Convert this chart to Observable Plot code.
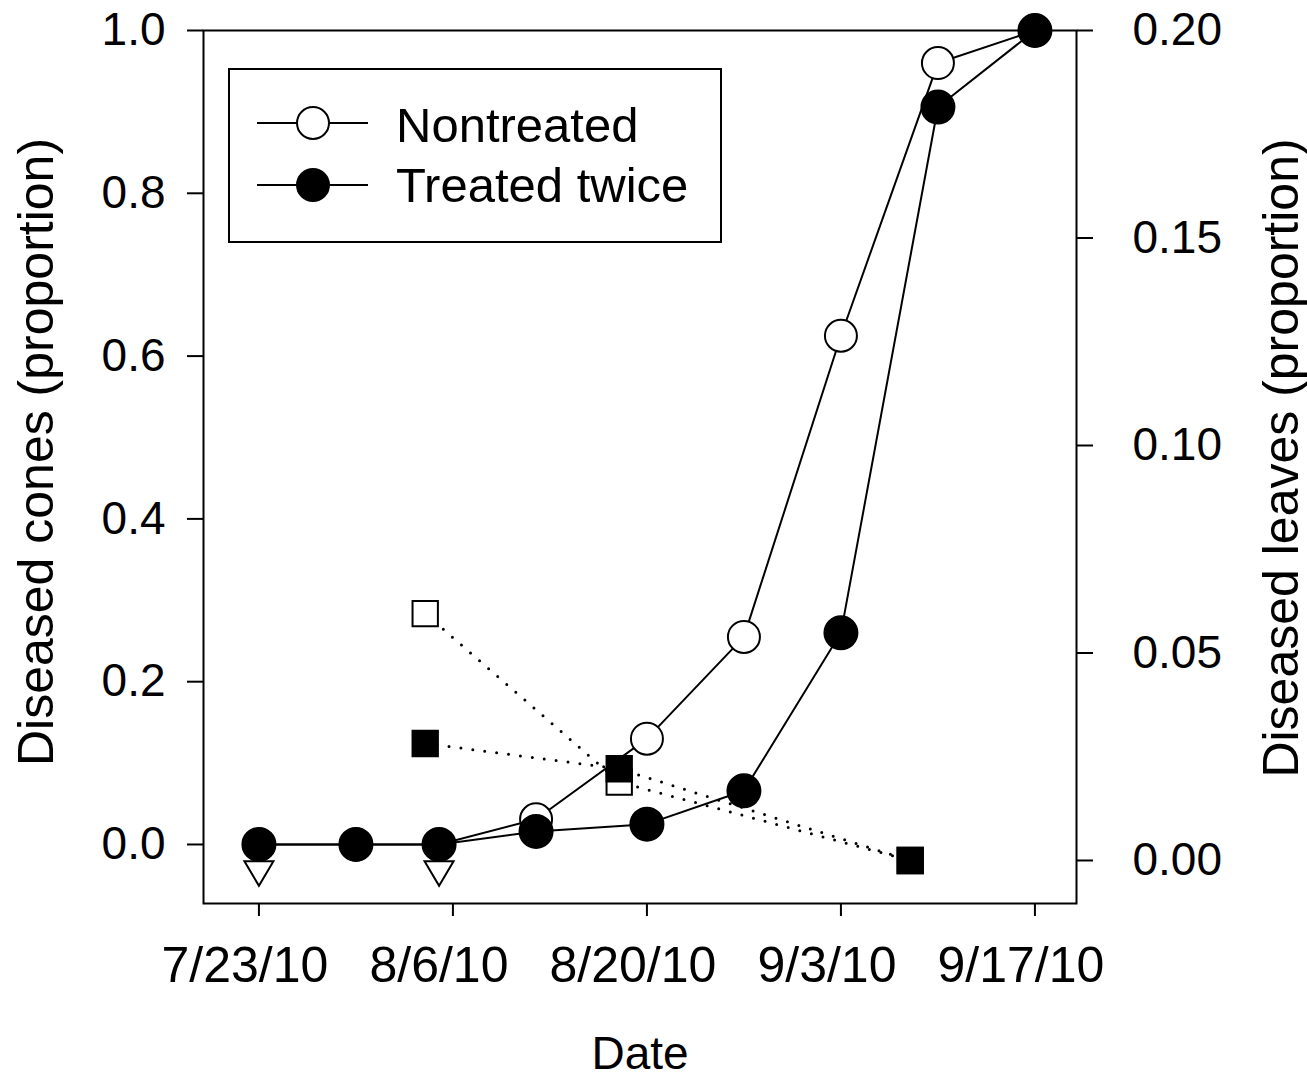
<!DOCTYPE html>
<html>
<head>
<meta charset="utf-8">
<script src="https://cdn.jsdelivr.net/npm/d3@7"></script>
<script src="https://cdn.jsdelivr.net/npm/@observablehq/plot@0.6"></script>
<style>
html, body { margin: 0; padding: 0; background: #fff; }
#wrap { position: relative; width: 1307px; height: 1078px; font-family: "Liberation Sans", Arial, sans-serif; }
#legend { position: absolute; left: 228px; top: 68px; width: 494px; height: 175px; box-sizing: border-box; border: 2px solid #000; background: #fff; }
</style>
</head>
<body>
<div id="wrap"></div>
<script>
// ---- data ----
const sampleDates = ["2010-07-23", "2010-07-30", "2010-08-05", "2010-08-12", "2010-08-20", "2010-08-27", "2010-09-03", "2010-09-10", "2010-09-17"];
const nontreatedCones = [0.0, 0.0, 0.0, 0.031, 0.130, 0.255, 0.625, 0.960, 1.0];
const treatedCones    = [0.0, 0.0, 0.0, 0.016, 0.025, 0.066, 0.260, 0.906, 1.0];

const leafDates = ["2010-08-04", "2010-08-18", "2010-09-08"];
const nontreatedLeaves = [0.0595, 0.0189, 0.0];
const treatedLeaves    = [0.0282, 0.0221, 0.0];

const treatmentDates = ["2010-07-23", "2010-08-05"];
const treatmentMarkerLevel = -0.0356;

const seriesNames = ["Nontreated", "Treated twice"];
const coneTicks = [0, 0.2, 0.4, 0.6, 0.8, 1.0];
const leafTicks = [0, 0.05, 0.10, 0.15, 0.20];
const dateTicks = ["2010-07-23", "2010-08-06", "2010-08-20", "2010-09-03", "2010-09-17"];
const xDomain = ["2010-07-19", "2010-09-20"];
const coneDomain = [-0.0725, 1.0];
const xTitle = "Date";
const yLeftTitle = "Diseased cones (proportion)";
const yRightTitle = "Diseased leaves (proportion)";

// right (leaf) axis expressed in the left (cone) scale
const LEAF_ZERO = -0.019656;
const LEAF_SCALE = 5.0983;
const leafToCone = v => LEAF_ZERO + v * LEAF_SCALE;
const coneToLeaf = c => (c - LEAF_ZERO) / LEAF_SCALE;

const parse = s => new Date(s + "T00:00:00Z");
const fmtDate = d => `${d.getUTCMonth() + 1}/${d.getUTCDate()}/${String(d.getUTCFullYear()).slice(2)}`;

const cones = (vals) => sampleDates.map((d, i) => ({date: parse(d), value: vals[i]}));
const leaves = (vals) => leafDates.map((d, i) => ({date: parse(d), value: leafToCone(vals[i])}));

const nt = cones(nontreatedCones);
const tr = cones(treatedCones);
const ntL = leaves(nontreatedLeaves);
const trL = leaves(treatedLeaves);
const treat = treatmentDates.map(d => ({date: parse(d), value: treatmentMarkerLevel}));

const triangleDown = {
  draw(context, size) {
    const r = Math.sqrt(size / Math.PI);
    const h = r * 1.7;
    context.moveTo(-r, -h / 2);
    context.lineTo(r, -h / 2);
    context.lineTo(0, h / 2);
    context.closePath();
  }
};

const font = "'Liberation Sans', Arial, sans-serif";
const dotted = {stroke: "black", strokeWidth: 3, strokeLinecap: "round", strokeDasharray: "0,12"};

const chart = Plot.plot({
  width: 1307,
  height: 1078,
  marginLeft: 203,
  marginRight: 231,
  marginTop: 30,
  marginBottom: 175,
  style: {fontFamily: font, background: "white", color: "black", overflow: "visible"},
  x: {type: "utc", domain: xDomain.map(parse)},
  y: {domain: coneDomain},
  marks: [
    Plot.frame({stroke: "black", strokeWidth: 2}),
    // left axis
    Plot.axisY({anchor: "left", ticks: coneTicks, tickFormat: d => d.toFixed(1), tickSize: 16, tickPadding: 22, fontSize: 46, strokeWidth: 2, label: null}),
    // right axis (leaves)
    Plot.axisY({anchor: "right", ticks: leafTicks.map(leafToCone), tickFormat: d => coneToLeaf(d).toFixed(2), tickSize: 16, tickPadding: 40, fontSize: 46, strokeWidth: 2, label: null}),
    // x ticks
    Plot.axisX({ticks: dateTicks.map(parse), tickSize: 13, fill: "none", strokeWidth: 2, label: null}),
    // x tick labels
    Plot.axisX({ticks: dateTicks.map(parse), tickSize: 13, tickPadding: 30, stroke: "none", tickFormat: fmtDate, fontSize: 50, dx: -14, label: null}),
    // axis titles
    Plot.text([xTitle], {frameAnchor: "bottom", lineAnchor: "top", dy: 133, fontSize: 46}),
    Plot.text([yLeftTitle], {frameAnchor: "left", rotate: -90, textAnchor: "middle", lineAnchor: "middle", dx: -167, dy: -15, fontSize: 50}),
    Plot.text([yRightTitle], {frameAnchor: "right", rotate: -90, textAnchor: "middle", lineAnchor: "middle", dx: 205, dy: -9, fontSize: 50}),
    // dotted leaf lines
    Plot.line(ntL, {x: "date", y: "value", ...dotted}),
    Plot.line(trL, {x: "date", y: "value", ...dotted}),
    // cone lines
    Plot.line(nt, {x: "date", y: "value", stroke: "black", strokeWidth: 2}),
    Plot.line(tr, {x: "date", y: "value", stroke: "black", strokeWidth: 2}),
    // treatment markers
    Plot.dot(treat, {x: "date", y: "value", symbol: triangleDown, r: 14.5, fill: "white", stroke: "black", strokeWidth: 2}),
    // leaf squares
    Plot.dot(ntL, {x: "date", y: "value", symbol: "square", r: 14.3, fill: "white", stroke: "black", strokeWidth: 2}),
    Plot.dot(trL, {x: "date", y: "value", symbol: "square", r: 14.3, fill: "black", stroke: "black", strokeWidth: 2}),
    // cone circles
    Plot.dot(nt, {x: "date", y: "value", r: 16, fill: "white", stroke: "black", strokeWidth: 2}),
    Plot.dot(tr, {x: "date", y: "value", r: 16.5, fill: "black", stroke: "black", strokeWidth: 2})
  ]
});

const wrap = document.getElementById("wrap");
wrap.appendChild(chart);

// legend
const legend = document.createElement("div");
legend.id = "legend";
const ns = "http://www.w3.org/2000/svg";
const lsvg = document.createElementNS(ns, "svg");
lsvg.setAttribute("width", "490");
lsvg.setAttribute("height", "171");
lsvg.style.position = "absolute";
lsvg.style.left = "0";
lsvg.style.top = "0";
const rows = [
  {name: seriesNames[0], fill: "white", y: 53, base: 72},
  {name: seriesNames[1], fill: "black", y: 115, base: 132}
];
rows.forEach(r => {
  const line = document.createElementNS(ns, "line");
  line.setAttribute("x1", 27); line.setAttribute("x2", 138);
  line.setAttribute("y1", r.y); line.setAttribute("y2", r.y);
  line.setAttribute("stroke", "black"); line.setAttribute("stroke-width", 2);
  lsvg.appendChild(line);
  const c = document.createElementNS(ns, "circle");
  c.setAttribute("cx", 83); c.setAttribute("cy", r.y); c.setAttribute("r", 16);
  c.setAttribute("fill", r.fill); c.setAttribute("stroke", "black"); c.setAttribute("stroke-width", 2);
  lsvg.appendChild(c);
  const t = document.createElementNS(ns, "text");
  t.setAttribute("x", 166); t.setAttribute("y", r.base);
  t.setAttribute("font-size", 49);
  t.setAttribute("font-family", font);
  t.setAttribute("fill", "black");
  t.textContent = r.name;
  lsvg.appendChild(t);
});
legend.appendChild(lsvg);
wrap.appendChild(legend);
</script>
</body>
</html>
